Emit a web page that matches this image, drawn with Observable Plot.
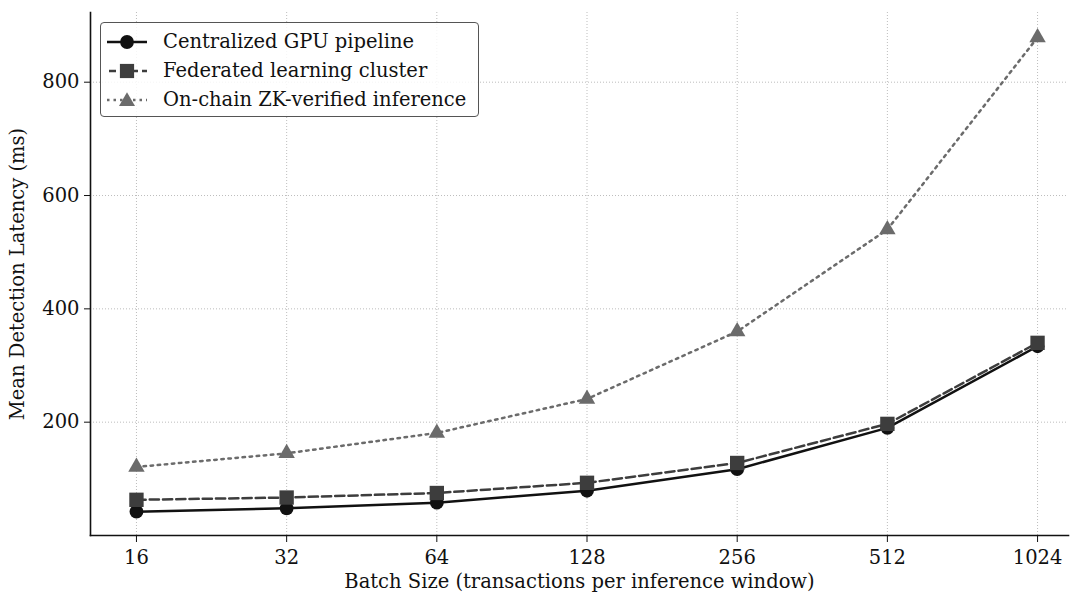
<!DOCTYPE html>
<html>
<head>
<meta charset="utf-8">
<script src="https://cdn.jsdelivr.net/npm/d3@7"></script>
<script src="https://cdn.jsdelivr.net/npm/@observablehq/plot@0.6"></script>
<style>
  html, body { margin: 0; padding: 0; background: white; }
  #wrap { position: relative; width: 1070px; height: 592px; font-family: "DejaVu Serif", serif; }
  #legend { position: absolute; left: 100px; top: 22px; width: 379px; height: 95px; border: 1.2px solid #555; border-radius: 4px; background: rgba(255,255,255,0.85); box-sizing: border-box; }
  .row { position: absolute; left: 0; height: 29px; display: flex; align-items: center; font-family: "DejaVu Serif", serif; font-size: 19.5px; color: #111; white-space: nowrap; }
  .row svg { margin-left: 6px; margin-right: 16px; }
</style>
</head>
<body>
<div id="wrap"></div>
<script>
const batchSizes = [16, 32, 64, 128, 256, 512, 1024];
const centralized = [42, 48, 58, 79, 117, 190, 334];
const federated = [63, 67, 75, 93, 128, 197, 340];
const zkOnChain = [121, 145, 181, 241, 360, 540, 879];
const seriesNames = ["Centralized GPU pipeline", "Federated learning cluster", "On-chain ZK-verified inference"];
const yTicks = [200, 400, 600, 800];

const colors = ["#111111", "#3d3d3d", "#6b6b6b"];
const dashes = [null, "9.25,4", "2.5,4.6"];
const symbols = ["circle", "square", "triangle"];
const radii = [6.9, 8.1, 6.1];

const rows = [];
[centralized, federated, zkOnChain].forEach((vals, i) => {
  batchSizes.forEach((b, j) => rows.push({series: seriesNames[i], batch: b, latency: vals[j]}));
});

const marks = [
  Plot.gridX(batchSizes, {stroke: "#b5b5b5", strokeOpacity: 1, strokeWidth: 0.9, strokeDasharray: "1,2"}),
  Plot.gridY(yTicks, {stroke: "#b5b5b5", strokeOpacity: 1, strokeWidth: 0.9, strokeDasharray: "1,2"}),
  Plot.axisX(batchSizes, {tickSize: 7, tickPadding: 8, tickFormat: d => String(d), label: "Batch Size (transactions per inference window)", labelAnchor: "center", labelArrow: "none", labelOffset: 52, fontSize: 19.5}),
  Plot.axisY(yTicks, {tickSize: 6, tickPadding: 5, label: "Mean Detection Latency (ms)", labelAnchor: "center", labelArrow: "none", labelOffset: 80, fontSize: 19.5}),
  Plot.frame({anchor: "left", stroke: "#111", strokeWidth: 1.6}),
  Plot.frame({anchor: "bottom", stroke: "#111", strokeWidth: 1.6})
];
seriesNames.forEach((s, i) => {
  const d = rows.filter(r => r.series === s);
  marks.push(Plot.line(d, {x: "batch", y: "latency", stroke: colors[i], strokeWidth: 2.5, strokeDasharray: dashes[i]}));
});
seriesNames.forEach((s, i) => {
  const d = rows.filter(r => r.series === s);
  marks.push(Plot.dot(d, {x: "batch", y: "latency", fill: colors[i], stroke: "none", symbol: symbols[i], r: radii[i]}));
});

const chart = Plot.plot({
  width: 1070,
  height: 592,
  marginLeft: 90,
  marginRight: 2,
  marginTop: 12,
  marginBottom: 57,
  style: {fontFamily: "DejaVu Serif", fontSize: "19.5px", color: "#111", background: "white", overflow: "visible"},
  x: {type: "log", base: 2, domain: [Math.pow(2, 3.694), Math.pow(2, 10.206)]},
  y: {domain: [0, 923]},
  marks
});
const wrap = document.getElementById("wrap");
wrap.appendChild(chart);

// Legend
const legend = document.createElement("div");
legend.id = "legend";
const symSvg = (i) => {
  const c = colors[i];
  const dash = dashes[i] ? `stroke-dasharray="${i === 1 ? '7,4' : '2.5,4'}"` : "";
  let marker;
  if (i === 0) marker = `<circle cx="20" cy="10" r="6.9" fill="${c}"/>`;
  else if (i === 1) marker = `<rect x="12.9" y="2.9" width="14.2" height="14.2" fill="${c}"/>`;
  else marker = `<path d="M20,2.2 L28,16 L12,16 Z" fill="${c}"/>`;
  const x1 = i === 1 ? 2 : 0;
  return `<svg width="40" height="20"><line x1="${x1}" y1="10" x2="40" y2="10" stroke="${c}" stroke-width="2.5" ${dash}/>${marker}</svg>`;
};
seriesNames.forEach((s, i) => {
  const row = document.createElement("div");
  row.className = "row";
  row.style.top = (4 + i * 29) + "px";
  row.innerHTML = symSvg(i) + `<span>${s}</span>`;
  legend.appendChild(row);
});
wrap.appendChild(legend);
</script>
</body>
</html>
